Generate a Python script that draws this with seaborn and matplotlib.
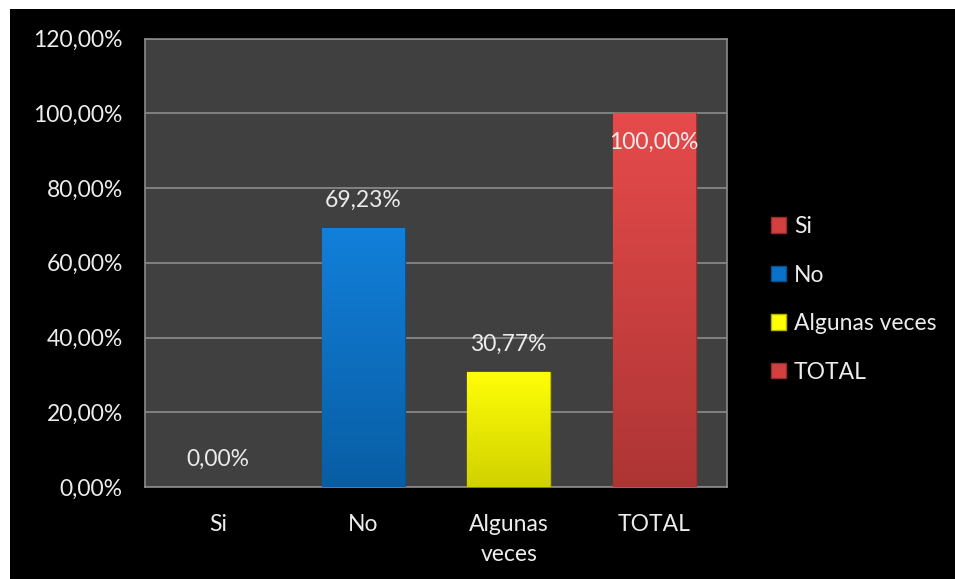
import numpy as np
import pandas as pd
import matplotlib
matplotlib.use("Agg")
import matplotlib.pyplot as plt
import matplotlib.colors as mcolors
from matplotlib.patches import Rectangle, Patch
import seaborn as sns

# Survey answers and their shares (percent)
categories = ["Si", "No", "Algunas\nveces", "TOTAL"]
legend_names = ["Si", "No", "Algunas veces", "TOTAL"]
values = [0.00, 69.23, 30.77, 100.00]
labels = ["0,00%", "69,23%", "30,77%", "100,00%"]
colors = ["#d44040", "#0a72c8", "#ffff00", "#d44040"]
y_ticks = [0, 20, 40, 60, 80, 100, 120]
y_tick_labels = ["0,00%", "20,00%", "40,00%", "60,00%", "80,00%", "100,00%", "120,00%"]

sns.set_style("dark")
plt.rcParams["font.family"] = ["Lato", "DejaVu Sans"]
text_color = "#ececec"
grid_color = "#8c8c8c"
fs = 16.5

fig = plt.figure(figsize=(9.55, 5.79), dpi=100, facecolor="white")
# black canvas behind the chart
fig.add_artist(Rectangle((10 / 955, 0), 945 / 955, 570 / 579,
                         transform=fig.transFigure, facecolor="black",
                         edgecolor="none", zorder=-10))

ax = fig.add_axes([145 / 955, 92 / 579, 582 / 955, 448.5 / 579])
ax.set_facecolor("#404040")

df = pd.DataFrame({"cat": categories, "val": values})
sns.barplot(data=df, x="cat", y="val", hue="cat", palette=colors,
            width=0.57, legend=False, ax=ax, saturation=1, zorder=3)

ax.set_ylim(0, 120)
ax.set_xlim(-0.5, 3.5)
ax.set_yticks(y_ticks)
ax.set_yticklabels(y_tick_labels, color=text_color, fontsize=fs)
ax.set_xticks(range(len(categories)))
ax.set_xticklabels(categories, color=text_color, fontsize=fs, linespacing=1.5)
ax.tick_params(axis="y", length=0, pad=16)
ax.tick_params(axis="x", length=0, pad=19.5)
ax.set_xlabel("")
ax.set_ylabel("")
ax.grid(axis="y", color=grid_color, linewidth=1.2, zorder=0)
ax.grid(axis="x", visible=False)
for s in ax.spines.values():
    s.set_visible(True)
    s.set_color(grid_color)
    s.set_linewidth(1.2)

# vertical shading on each bar: lighter at the top, darker at the base
for bar, c in zip(ax.patches, colors):
    h = bar.get_height()
    if h <= 0:
        bar.set_linewidth(0)
        continue
    x0 = bar.get_x()
    w = bar.get_width()
    rgb = np.array(mcolors.to_rgb(c))
    n = 256
    t = np.linspace(0, 1, n)[:, None]
    top = np.clip(rgb * 1.05 + 0.03, 0, 1)
    bot = rgb * 0.82
    grad = top[None, :] * (1 - t[:, :, None]) + bot[None, :] * t[:, :, None]
    grad = np.repeat(grad, 2, axis=1)
    im = ax.imshow(grad, extent=(x0, x0 + w, 0, h), aspect="auto",
                   origin="upper", zorder=4)
    im.set_clip_path(bar)
    bar.set_edgecolor(tuple(rgb * 0.75))
    bar.set_linewidth(1.0)
    bar.set_zorder(4)

# value labels
for i, (v, lab) in enumerate(zip(values, labels)):
    offset = -21 if v >= 100 else 20
    ax.annotate(lab, xy=(i, v), xytext=(0, offset),
                textcoords="offset points", ha="center", va="center",
                color=text_color, fontsize=fs, zorder=6)

handles = [Patch(facecolor=c, edgecolor=tuple(np.array(mcolors.to_rgb(c)) * 0.7))
           for c in colors]
leg = fig.legend(handles, legend_names, loc="upper left",
                 bbox_to_anchor=(762 / 955, 1 - 207 / 579),
                 frameon=False, fontsize=fs, labelcolor=text_color,
                 handlelength=0.65, handleheight=0.65, handletextpad=0.35,
                 labelspacing=1.2, borderaxespad=0)

fig.savefig("out.png", dpi=100, facecolor=fig.get_facecolor())
